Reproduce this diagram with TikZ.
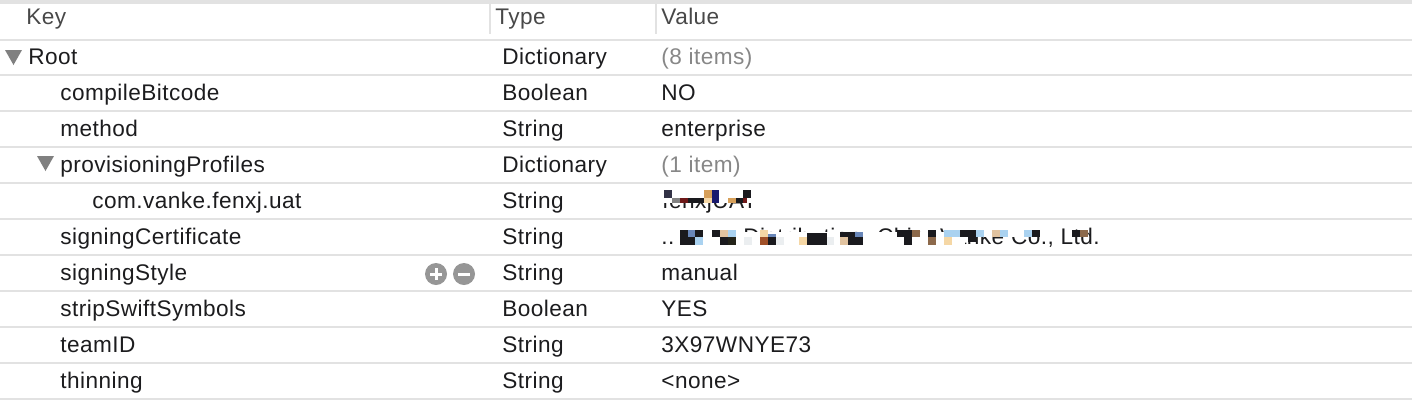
\documentclass[tikz,border=0pt]{standalone}
\usepackage{fontspec}
\setmainfont[LetterSpace=2]{Liberation Sans}
\usetikzlibrary{positioning}
\definecolor{rulecolor}{RGB}{226,226,226}
\definecolor{headcolor}{RGB}{72,72,72}
\definecolor{cellcolor}{RGB}{28,28,30}
\definecolor{mutedcolor}{RGB}{135,135,135}
\definecolor{iconcolor}{RGB}{150,150,150}
\definecolor{pdark}{RGB}{26,26,30}
\definecolor{pslate}{RGB}{50,50,70}
\definecolor{pgrey}{RGB}{130,130,130}
\definecolor{pred}{RGB}{110,25,25}
\definecolor{ptan}{RGB}{215,160,90}
\definecolor{pcream}{RGB}{245,215,165}
\definecolor{pnavy}{RGB}{25,25,110}
\definecolor{pblue}{RGB}{105,135,185}
\definecolor{psky}{RGB}{170,210,240}
\definecolor{pbeige}{RGB}{225,195,160}
\definecolor{pfaint}{RGB}{235,238,240}
\definecolor{prust}{RGB}{160,80,40}
\definecolor{pbrown}{RGB}{140,105,75}
\definecolor{polive}{RGB}{35,35,25}
\begin{document}
\begin{tikzpicture}[
    x=0.5pt, y=-0.5pt,
    head/.style={anchor=base west, inner sep=0pt, font=\fontsize{11.3}{13}\selectfont, text=headcolor},
    cell/.style={anchor=base west, inner sep=0pt, font=\fontsize{11.3}{13}\selectfont, text=cellcolor},
    muted/.style={cell, text=mutedcolor},
    rowline/.style={draw=rulecolor, line width=0.75pt},
    tri/.style={fill=iconcolor!85!black, draw=none},
    icon/.style={circle, fill=iconcolor, inner sep=0pt, minimum size=11pt}
]
    \useasboundingbox (0,0) rectangle (1412,408);
    \fill[rulecolor] (0,0) rectangle (1412,4);

    % header
    \node[head] (keyhead) at (26,24) {Key};
    \node[head] (typehead) at (495,24) {Type};
    \node[head] (valuehead) at (661,24) {Value};
    \fill[rulecolor] (489,4) rectangle (491,34);
    \fill[rulecolor] (655,4) rectangle (657,34);

    % rows
    \foreach \ypos in {40,75,111,147,183,219,255,291,327,363,399}
        \draw[rowline] (0,\ypos) -- (1412,\ypos);

    \foreach \name/\xpos/\ypos/\txt in {
        root/28/64/Root, bitcode/60/100/compileBitcode, method/60/136/method,
        profiles/60/172/provisioningProfiles, bundle/92/208/com.vanke.fenxj.uat,
        certificate/60/244/signingCertificate, style/60/280/signingStyle,
        strip/60/316/stripSwiftSymbols, team/60/352/teamID, thinning/60/388/thinning}
        \node[cell] (\name) at (\xpos,\ypos) {\txt};

    \foreach \name/\ypos/\txt in {
        troot/64/Dictionary, tbitcode/100/Boolean, tmethod/136/String,
        tprofiles/172/Dictionary, tbundle/208/String, tcertificate/244/String,
        tstyle/280/String, tstrip/316/Boolean, tteam/352/String, tthinning/388/String}
        \node[cell] (\name) at (502,\ypos) {\txt};

    \node[muted] (vroot) at (661,64) {(8 items)};
    \node[cell] (vbitcode) at (661,100) {NO};
    \node[cell] (vmethod) at (661,136) {enterprise};
    \node[muted] (vprofiles) at (661,172) {(1 item)};
    \node[cell] (vstyle) at (661,280) {manual};
    \node[cell] (vstrip) at (661,316) {YES};
    \node[cell] (vteam) at (661,352) {3X97WNYE73};
    \node[cell] (vthinning) at (661,388) {<none>};

    % disclosure triangles
    \fill[tri] (5,50) -- (22,50) -- (13.5,65) -- cycle;
    \fill[tri] (37,156) -- (54,156) -- (45.5,171) -- cycle;

    % add and remove buttons
    \node[icon] (addbtn) at (436,274) {};
    \node[icon] (removebtn) at (464,274) {};
    \fill[white] (430,272.5) rectangle (442,275.5);
    \fill[white] (434.5,268) rectangle (437.5,280);
    \fill[white] (458,272.5) rectangle (470,275.5);

    % redacted values
    \node[cell] (vbundle) at (662,208) {fenxjUAT};
    \fill[white] (655,185) rectangle (760,203);
    \node[cell] (vdots) at (661,244) {..};
    \node[cell] (vdistribution) at (743,244) {Distribution: China};
    \node[cell, anchor=base east] (vcompany) at (1100,244) {Vanke Co., Ltd.};
    \fill[white] (738,232) rectangle (950,250);
    \fill[white] (945,222) rectangle (1058,237);
    \fill[white] (940,237) rectangle (965,250);
    \foreach \xa/\ya/\xb/\yb/\shade in {
        664/190/672/198/pslate, 672/198/680/203/pgrey, 680/198/688/203/pred,
        688/198/704/203/pdark, 704/190/712/198/ptan, 712/190/719/203/pnavy,
        704/198/712/203/pcream, 728/198/736/203/ptan, 736/198/743/203/pdark,
        743/190/751/198/pdark, 743/198/747/203/pred,
        680/230/695/245/pdark, 688/230/695/237/pblue, 695/230/703/237/pdark, 695/237/703/245/psky,
        712/230/720/237/pdark, 720/230/728/237/pbeige, 728/230/736/237/psky,
        720/237/728/245/pdark, 728/237/736/245/polive, 744/237/752/245/pfaint,
        760/230/768/237/pcream, 760/237/768/245/prust, 768/237/776/245/pdark,
        768/234/776/237/pblue, 776/237/784/245/pfaint,
        799/237/807/245/pcream, 807/233/827/245/pdark, 827/237/834/245/pfaint,
        840/237/848/245/pbeige, 840/232/863/237/pdark, 848/237/863/245/pdark, 855/232/863/237/pblue,
        897/230/912/237/pdark, 912/230/920/237/pbrown, 904/237/912/245/pdark,
        928/230/936/237/pdark, 928/237/936/245/pbrown,
        944/230/960/237/psky, 944/237/952/245/pcream,
        960/230/976/237/pdark, 968/237/976/242/pdark, 976/230/984/237/psky,
        992/230/1000/237/pbeige, 1000/230/1008/237/psky,
        1024/230/1032/237/psky, 1032/230/1040/237/pdark,
        1072/230/1080/237/pdark, 1080/230/1088/237/pbrown}
        \fill[\shade] (\xa,\ya) rectangle (\xb,\yb);
\end{tikzpicture}
\end{document}
